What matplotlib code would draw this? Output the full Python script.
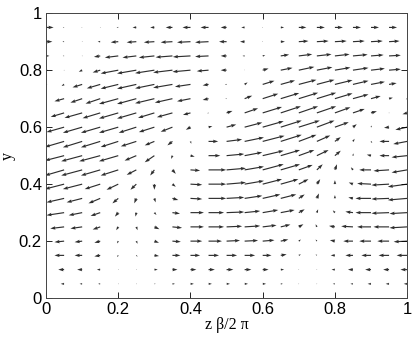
import matplotlib
matplotlib.use("Agg")
import matplotlib.pyplot as plt
import numpy as np

# grid of the vector field (x = z*beta/2pi, y)
x_vals = [0.00, 0.05, 0.10, 0.15, 0.20, 0.25, 0.30, 0.35, 0.40, 0.45, 0.50,
          0.55, 0.60, 0.65, 0.70, 0.75, 0.80, 0.85, 0.90, 0.95, 1.00]
y_vals = [0.05, 0.10, 0.15, 0.20, 0.25, 0.30, 0.35, 0.40, 0.45, 0.50,
          0.55, 0.60, 0.65, 0.70, 0.75, 0.80, 0.85, 0.90, 0.95]

# horizontal component (x units / 100), one row per y value, bottom to top
u_rows = [
    [-0.8, -0.8, -0.6, -0.5, 0.0, 0.1, 0.3, 0.6, 0.8, 0.8, 0.8, 0.8, 0.8, 0.5, 0.1, 0.0, -0.5, -0.6, -0.8, -0.8, -0.8],
    [-1.6, -1.4, -1.2, -0.8, -0.1, 0.1, 0.8, 1.2, 1.4, 1.5, 1.6, 1.6, 1.4, 0.8, 0.1, -0.1, -0.8, -1.2, -1.4, -1.4, -1.6],
    [-2.5, -2.3, -1.8, -1.4, -0.3, 0.3, 1.1, 1.9, 2.3, 2.5, 2.5, 2.5, 2.1, 1.4, 0.5, -0.3, -1.0, -1.8, -2.3, -2.5, -2.5],
    [-3.2, -2.3, -1.8, -1.4, -0.3, 0.3, 1.1, 2.0, 2.8, 3.2, 3.2, 3.2, 2.8, 1.8, 0.5, -0.3, -1.2, -2.3, -2.8, -2.8, -3.2],
    [-4.2, -3.3, -2.8, -1.8, -0.5, 0.3, 1.2, 2.3, 3.2, 3.7, 3.7, 3.7, 3.3, 2.3, 1.1, -0.3, -1.4, -2.8, -3.3, -3.7, -4.2],
    [-4.2, -4.2, -3.2, -2.3, -0.8, -0.2, 0.5, 1.8, 3.2, 3.7, 4.2, 3.7, 3.7, 3.3, 1.4, 0.3, -0.5, -1.8, -3.7, -4.2, -4.2],
    [-4.6, -4.2, -3.7, -2.8, -1.4, -0.5, 0.3, 1.4, 2.8, 4.2, 4.2, 4.2, 4.2, 3.7, 1.4, 0.5, 0.0, -1.1, -3.7, -4.2, -4.6],
    [-4.6, -4.6, -4.6, -3.7, -2.8, -1.4, 0.0, 0.8, 2.8, 4.2, 4.6, 4.6, 4.6, 4.2, 2.3, 0.8, 0.0, -1.0, -3.3, -4.2, -4.6],
    [-3.7, -4.6, -5.0, -4.6, -4.2, -2.3, -1.0, 0.8, 2.3, 4.2, 4.6, 4.6, 5.0, 4.6, 3.3, 1.4, 0.5, -0.5, -2.8, -3.7, -3.7],
    [-3.7, -4.6, -5.0, -5.0, -4.6, -2.8, -2.3, -0.3, 1.0, 2.8, 4.2, 4.2, 5.0, 4.6, 3.7, 2.8, 1.4, 0.1, -1.0, -2.3, -3.7],
    [-3.3, -4.6, -4.6, -4.6, -4.2, -3.7, -2.3, -1.2, 0.2, 2.3, 3.7, 4.6, 5.2, 5.0, 4.2, 3.2, 1.4, 0.4, 0.3, -2.3, -3.3],
    [-2.8, -4.2, -4.6, -4.6, -4.6, -4.2, -3.7, -2.8, -1.1, 0.9, 2.3, 4.2, 5.0, 5.0, 5.0, 4.2, 3.3, 0.9, 0.2, -1.2, -2.8],
    [-1.1, -3.2, -4.2, -4.2, -4.6, -4.6, -3.9, -3.7, -1.8, -0.3, 1.4, 3.2, 4.6, 4.8, 4.6, 4.6, 3.7, 2.8, 1.4, 0.0, -1.1],
    [-0.3, -2.3, -2.8, -3.5, -4.6, -4.6, -4.6, -4.2, -3.2, -1.4, -0.3, 1.8, 3.7, 4.4, 4.6, 4.6, 4.2, 3.7, 2.3, 0.9, -0.3],
    [0.3, -0.6, -2.3, -3.2, -4.2, -4.6, -4.6, -4.6, -3.7, -1.4, -0.4, 0.7, 2.8, 3.4, 4.2, 4.2, 4.2, 3.7, 3.3, 1.8, 0.3],
    [0.5, 0.0, -0.8, -1.8, -4.2, -4.6, -4.6, -4.6, -4.3, -2.8, -1.4, 0.0, 1.4, 2.8, 3.7, 3.7, 3.7, 3.7, 3.3, 2.8, 0.5],
    [0.8, -0.3, 0.0, -1.5, -3.2, -3.3, -3.7, -4.0, -4.2, -3.2, -1.4, -0.5, 0.6, 2.0, 3.2, 3.5, 3.5, 3.5, 3.0, 2.8, 0.8],
    [1.5, -0.4, 0.0, -0.6, -1.8, -2.3, -2.5, -2.8, -3.2, -3.2, -1.8, -1.1, 0.0, 1.0, 2.3, 2.8, 2.8, 2.8, 2.8, 2.5, 1.5],
    [1.8, -0.3, -0.2, 0.0, -0.4, -0.9, -1.0, -1.6, -1.9, -1.9, -1.4, -0.8, 0.0, 0.8, 1.8, 1.9, 1.9, 1.9, 1.9, 1.9, 1.8],
]

# vertical component (y units / 100), same layout
v_rows = [
    [0.0, 0.0, 0.0, 0.0, 0.0, 0.0, 0.0, 0.0, 0.0, 0.0, 0.0, 0.0, 0.0, 0.0, 0.0, 0.0, 0.0, 0.0, 0.0, 0.0, 0.0],
    [0.0, 0.0, 0.0, 0.0, 0.0, 0.0, 0.0, 0.0, 0.0, 0.0, 0.0, 0.0, 0.0, 0.0, 0.0, 0.0, 0.0, 0.0, 0.0, 0.0, 0.0],
    [0.0, 0.0, 0.0, -0.3, -0.5, -0.4, -0.2, 0.0, 0.0, 0.0, 0.0, 0.0, 0.0, 0.3, 0.3, 0.3, 0.0, 0.0, 0.0, 0.0, 0.0],
    [-0.2, -0.3, -0.3, -0.5, -0.7, -0.8, -0.5, -0.2, 0.0, 0.0, 0.2, 0.2, 0.3, 0.5, 0.5, 0.5, 0.3, 0.0, 0.0, 0.0, -0.2],
    [-0.3, -0.5, -0.5, -0.8, -1.0, -1.0, -0.7, -0.3, 0.0, 0.0, 0.2, 0.3, 0.5, 0.7, 0.8, 0.8, 0.3, 0.2, 0.0, 0.0, -0.3],
    [-0.3, -0.8, -0.8, -1.0, -1.2, -1.2, -0.7, -0.3, 0.0, 0.0, 0.2, 0.5, 0.8, 0.8, 1.0, 1.0, 0.7, 0.3, 0.0, -0.2, -0.3],
    [-0.5, -1.2, -1.2, -1.5, -1.5, -1.5, -1.2, -0.5, -0.2, 0.0, 0.3, 0.8, 1.2, 1.2, 1.2, 1.5, 1.0, 0.3, 0.0, -0.2, -0.5],
    [-0.8, -1.5, -1.5, -1.5, -1.7, -1.7, -1.7, -0.8, -0.2, 0.0, 0.5, 1.0, 1.5, 1.5, 1.5, 1.5, 1.2, 0.5, 0.2, -0.3, -0.8],
    [-0.8, -1.7, -1.7, -1.7, -1.7, -1.5, -1.7, -1.2, -0.2, 0.0, 0.5, 1.0, 1.7, 1.7, 1.5, 1.7, 1.7, 0.8, 0.0, -0.3, -0.8],
    [-0.5, -1.5, -1.7, -1.7, -1.7, -1.5, -2.0, -1.0, -0.3, 0.0, 0.5, 1.0, 1.5, 1.7, 1.7, 1.7, 1.5, 0.7, 0.3, 0.0, -0.5],
    [-0.8, -1.7, -1.8, -1.8, -1.7, -1.5, -1.2, -1.2, -0.7, 0.0, 0.6, 1.2, 1.7, 2.0, 2.0, 1.8, 1.3, 0.8, -0.5, 0.0, -0.8],
    [-0.8, -1.5, -1.7, -1.7, -1.7, -1.7, -1.5, -1.4, -0.8, 0.3, 0.8, 1.4, 1.8, 2.0, 2.0, 2.0, 1.5, 0.9, 0.5, -0.2, -0.8],
    [-0.4, -1.2, -1.5, -1.6, -1.7, -1.7, -1.5, -1.3, -0.6, -0.1, 0.6, 1.4, 1.8, 2.0, 2.0, 2.0, 1.7, 1.2, 0.5, 0.0, -0.4],
    [-0.2, -0.8, -1.2, -1.5, -1.6, -1.6, -1.4, -1.2, -0.8, -0.4, 0.0, 0.9, 1.5, 1.7, 1.8, 1.8, 1.6, 1.3, 0.8, 0.3, -0.2],
    [0.0, -0.5, -0.9, -1.2, -1.3, -1.3, -1.2, -1.0, -0.7, -0.3, 0.0, 0.6, 1.1, 1.2, 1.4, 1.4, 1.3, 1.1, 0.8, 0.4, 0.0],
    [0.0, 0.0, -0.5, -0.7, -1.0, -1.0, -0.9, -0.7, -0.5, -0.3, 0.0, 0.2, 0.5, 0.7, 1.0, 0.9, 0.8, 0.7, 0.5, 0.3, 0.0],
    [0.0, 0.0, 0.0, -0.3, -0.5, -0.5, -0.5, -0.4, -0.3, -0.2, 0.0, 0.0, 0.2, 0.4, 0.5, 0.5, 0.5, 0.4, 0.3, 0.2, 0.0],
    [0.0, 0.0, 0.0, 0.0, -0.2, -0.2, -0.2, -0.2, -0.2, -0.2, 0.0, 0.0, 0.0, 0.0, 0.2, 0.2, 0.2, 0.2, 0.2, 0.2, 0.0],
    [0.0, 0.0, 0.0, 0.0, 0.0, 0.0, 0.0, 0.0, 0.0, 0.0, 0.0, 0.0, 0.0, 0.0, 0.0, 0.0, 0.0, 0.0, 0.0, 0.0, 0.0],
]

xticks = [0, 0.2, 0.4, 0.6, 0.8, 1]
xtick_labels = ["0", "0.2", "0.4", "0.6", "0.8", "1"]
yticks = [0, 0.2, 0.4, 0.6, 0.8, 1]
ytick_labels = ["0", "0.2", "0.4", "0.6", "0.8", "1"]

X, Y = np.meshgrid(x_vals, y_vals)
U = np.array(u_rows)
V = np.array(v_rows)

fig = plt.figure(figsize=(4.15, 3.38), dpi=100)
ax = fig.add_axes([0.111, 0.118, 0.870, 0.843])

# arrows a bit longer than read, MATLAB-like autoscale
ax.quiver(X, Y, U, V, angles="xy", scale_units="xy", scale=86,
          color="#2e2e2e", width=0.0032, headwidth=3.0, headlength=4.5,
          headaxislength=4.0, minlength=0.5)

ax.set_xlim(0, 1)
ax.set_ylim(0, 1)
ax.set_xticks(xticks)
ax.set_xticklabels(xtick_labels)
ax.set_yticks(yticks)
ax.set_yticklabels(ytick_labels)
ax.tick_params(direction="in", length=4, width=0.6, top=True, right=True,
               labelsize=12, pad=3)
for lab in ax.get_xticklabels() + ax.get_yticklabels():
    lab.set_family(["Liberation Sans", "DejaVu Sans"])
for sp in ax.spines.values():
    sp.set_linewidth(0.7)
    sp.set_color("#444444")

ax.set_xlabel("z β/2 π", family=["Liberation Serif", "DejaVu Serif"],
              fontsize=11.5, labelpad=0)
ax.set_ylabel("y", family=["Liberation Serif", "DejaVu Serif"],
              fontsize=11.5, labelpad=2)

fig.savefig("out.png", dpi=100)
